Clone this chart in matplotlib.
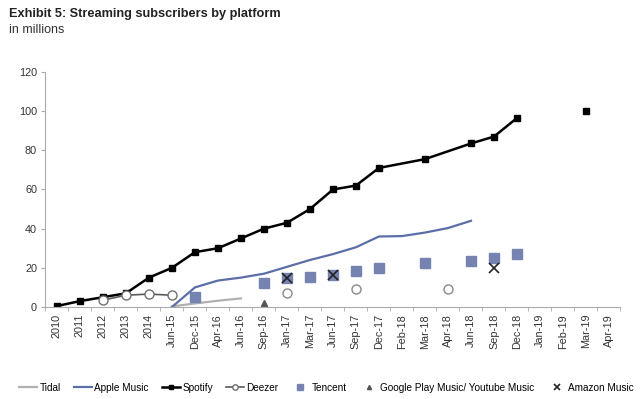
import matplotlib
matplotlib.use("Agg")
import matplotlib.pyplot as plt
import numpy as np

nan = np.nan

periods = ["2010", "2011", "2012", "2013", "2014", "Jun-15", "Dec-15", "Apr-16",
           "Jun-16", "Sep-16", "Jan-17", "Mar-17", "Jun-17", "Sep-17", "Dec-17",
           "Feb-18", "Mar-18", "Apr-18", "Jun-18", "Sep-18", "Dec-18", "Jan-19",
           "Feb-19", "Mar-19", "Apr-19"]

# subscribers in millions, nan = no data for that period
tidal = [nan, nan, nan, nan, nan, 0.3, 1.8, 3.2, 4.4, nan, nan, nan, nan, nan, nan,
         nan, nan, nan, nan, nan, nan, nan, nan, nan, nan]
apple_music = [nan, nan, nan, nan, nan, 0, 10, 13.5, 15, 17, 20.5, 24, 27, 30.5, 36,
               36.2, 38, 40.3, 44, nan, nan, nan, nan, nan, nan]
spotify = [0.5, 3, 5, 7, 15, 20, 28, 30, 35, 40, 43, 50, 60, 62, 71,
           nan, 75.5, nan, 83.5, 87, 96.5, nan, nan, nan, nan]
spotify_mar19 = [nan, nan, nan, nan, nan, nan, nan, nan, nan, nan, nan, nan, nan, nan, nan,
                 nan, nan, nan, nan, nan, nan, nan, nan, 100, nan]
deezer = [nan, nan, 3.5, 6, 6.6, 6, nan, nan, nan, nan, nan, nan, nan, nan, nan,
          nan, nan, nan, nan, nan, nan, nan, nan, nan, nan]
deezer_later = [nan, nan, nan, nan, nan, nan, nan, nan, nan, nan, 7, nan, nan, 9, nan,
                nan, nan, 9, nan, nan, nan, nan, nan, nan, nan]
tencent = [nan, nan, nan, nan, nan, nan, 5, nan, nan, 12, 14.8, 15.5, 16.3, 18.5, 19.8,
           nan, 22.6, nan, 23.4, 24.9, 27, nan, nan, nan, nan]
google_play = [nan, nan, nan, nan, nan, nan, nan, nan, nan, 1.8, nan, nan, nan, nan, nan,
               nan, nan, nan, nan, nan, nan, nan, nan, nan, nan]
amazon = [nan, nan, nan, nan, nan, nan, nan, nan, nan, nan, 14.8, nan, 16.3, nan, nan,
          nan, nan, nan, nan, 19.8, nan, nan, nan, nan, nan]


def connected(values):
    """Return x and y of the non-missing points, so gaps are bridged like Excel."""
    v = np.array(values, dtype=float)
    idx = np.where(~np.isnan(v))[0]
    return idx, v[idx]


plt.rcParams["font.family"] = ["Liberation Sans", "DejaVu Sans"]

fig = plt.figure(figsize=(6.4, 3.99), dpi=100)
ax = fig.add_axes([0.071, 0.2306, 0.8985, 0.589])

blue = "#5b6ea8"
square = "#7682b0"

x, y = connected(tidal)
ax.plot(x, y, color="#b0b0b0", linewidth=1.6, label="Tidal")
x, y = connected(apple_music)
ax.plot(x, y, color=blue, linewidth=1.6, label="Apple Music")
x, y = connected(spotify)
ax.plot(x, y, color="black", linewidth=1.8, marker="s", markersize=4, label="Spotify")
x, y = connected(spotify_mar19)
ax.plot(x, y, color="black", linestyle="none", marker="s", markersize=4)
x, y = connected(deezer)
ax.plot(x, y, color="#5a5a5a", linewidth=1.2, marker="o", markersize=6.5,
        markerfacecolor="white", markeredgecolor="#707070", label="Deezer")
x, y = connected(deezer_later)
ax.plot(x, y, linestyle="none", marker="o", markersize=6.5,
        markerfacecolor="white", markeredgecolor="#8a8a8a")
x, y = connected(tencent)
ax.plot(x, y, linestyle="none", marker="s", markersize=7, color=square, label="Tencent")
x, y = connected(google_play)
ax.plot(x, y, linestyle="none", marker="^", markersize=5, color="#555555",
        label="Google Play Music/ Youtube Music")
x, y = connected(amazon)
ax.plot(x, y, linestyle="none", marker="x", markersize=7, markeredgewidth=1.2,
        color="#222222", label="Amazon Music")

ax.set_xlim(-0.5, len(periods) - 0.5)
ax.set_ylim(0, 120)
ax.set_yticks(range(0, 121, 20))
ax.set_xticks(range(len(periods)))
ax.set_xticklabels(periods, rotation=90, fontsize=7.8, color="#333333")
ax.set_xticks(np.arange(-0.5, len(periods), 1), minor=True)
ax.tick_params(axis="x", which="major", length=0, pad=5)
ax.tick_params(axis="x", which="minor", length=3, color="#aaaaaa")
ax.tick_params(axis="y", length=3, color="#aaaaaa", labelsize=7.8, labelcolor="#333333", pad=3)
for side in ("top", "right"):
    ax.spines[side].set_visible(False)
for side in ("left", "bottom"):
    ax.spines[side].set_color("#aaaaaa")
    ax.spines[side].set_linewidth(0.8)

fig.text(0.014, 0.957, "Exhibit 5: Streaming subscribers by platform",
         fontsize=9.2, fontweight="bold", color="#222222", va="baseline")
fig.text(0.014, 0.917, "in millions", fontsize=9, color="#333333", va="baseline")

handles, labels = ax.get_legend_handles_labels()
fig.legend(handles, labels, loc="center", bbox_to_anchor=(0.51, 0.028), ncol=7,
           frameon=False, fontsize=7.2, handlelength=1.8, handletextpad=0.25,
           columnspacing=1.3, markerscale=0.6)

fig.savefig("out.png", dpi=100, facecolor="white")
plt.close(fig)
